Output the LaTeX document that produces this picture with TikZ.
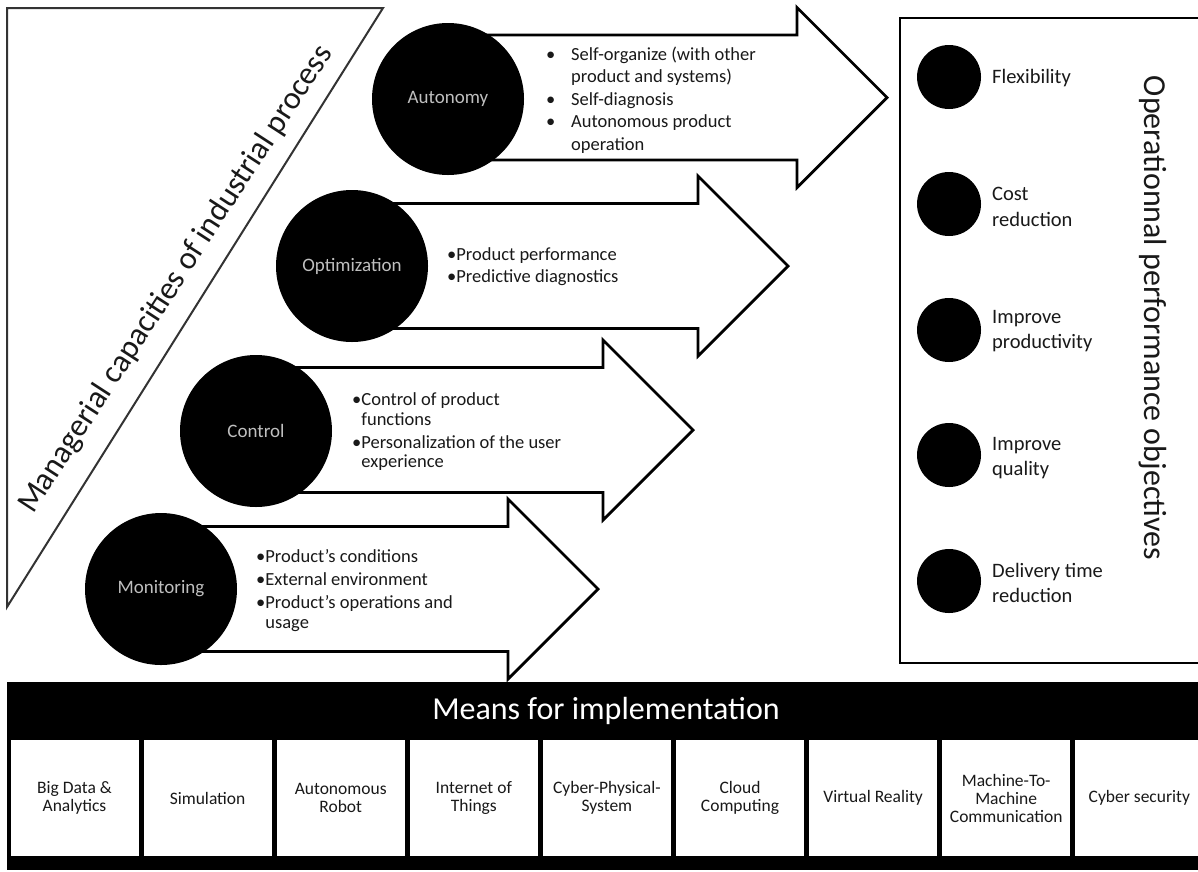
\documentclass[tikz,border=0pt]{standalone}
\usepackage{fontspec}
\setmainfont{Carlito}
\newcommand{\procarrow}[3]{%
  \draw[arrowshape] (#1,#2-62.5) -- (#3,#2-62.5) -- (#3,#2-90) -- (#3+90,#2)
    -- (#3,#2+90) -- (#3,#2+62.5) -- (#1,#2+62.5) -- cycle;}
\begin{document}
\begin{tikzpicture}[x=1pt,y=-1pt,
  arrowshape/.style={draw=black, line width=2.8pt, fill=white, line join=miter},
  bigcirc/.style={circle, fill=black, minimum size=152pt, inner sep=0pt,
    text=black!25, font=\fontsize{19}{22}\selectfont},
  smallcirc/.style={circle, fill=black, minimum size=64pt, inner sep=0pt},
  listtext/.style={anchor=west, inner sep=0pt, align=left, text=black!90,
    font=\fontsize{18.5}{22.5}\selectfont},
  objtext/.style={anchor=west, inner sep=0pt, align=left, text=black!90,
    font=\fontsize{20.5}{25.5}\selectfont},
  cell/.style={fill=white, minimum width=128pt, minimum height=116pt,
    inner sep=0pt, align=center, text=black!90,
    font=\fontsize{17.5}{18}\selectfont},
  bigtext/.style={inner sep=0pt, font=\fontsize{32}{38}\selectfont}
]
\useasboundingbox (0,0) rectangle (1198,871);
\fill[white] (0,0) rectangle (1198,871);

% triangle
\draw[line width=2pt, draw=black!80, line join=miter] (7,8) -- (383,8) -- (7,607) -- cycle;
\node[bigtext, rotate=57, anchor=base, text=black!90] (mgr) at (183,284)
  {Managerial capacities of industrial process};

% arrows
\procarrow{448}{97.5}{797}
\procarrow{352}{266}{698}
\procarrow{256}{430}{603}
\procarrow{161}{589}{508}

% circles
\node[bigcirc] (autonomy) at (448,99) {Autonomy};
\node[bigcirc] (optim) at (352,266) {Optimization};
\node[bigcirc] (control) at (256,431) {Control};
\node[bigcirc] (monit) at (161,589) {Monitoring};

% arrow texts
\node[listtext] (autol) at (546,100)
  {\makebox[25pt][l]{•}Self-organize (with other\\
   \hspace*{25pt}product and systems)\\
   \makebox[25pt][l]{•}Self-diagnosis\\
   \makebox[25pt][l]{•}Autonomous product\\
   \hspace*{25pt}operation};
\node[listtext, font=\fontsize{18.5}{22}\selectfont] (optl) at (447,267)
  {•Product performance\\•Predictive diagnostics};
\node[listtext, font=\fontsize{18.5}{19.5}\selectfont] (ctrll) at (352,432)
  {•Control of product\\\phantom{•}functions\\[3.5pt]
   •Personalization of the user\\\phantom{•}experience};
\node[listtext, font=\fontsize{18.5}{20}\selectfont] (monl) at (256,591)
  {•Product’s conditions\\[3pt]•External environment\\[3pt]
   •Product’s operations and\\\phantom{•}usage};

% objectives box
\draw[line width=2.8pt, line join=miter] (1230,18) -- (900,18) -- (900,663) -- (1230,663);
\node[smallcirc] (o1) at (949,77) {};
\node[smallcirc] (o2) at (949,204) {};
\node[smallcirc] (o3) at (949,330) {};
\node[smallcirc] (o4) at (949,455) {};
\node[smallcirc] (o5) at (949,581) {};
\node[objtext] (t1) at (992,78) {Flexibility};
\node[objtext] (t2) at (992,207) {Cost\\reduction};
\node[objtext] (t3) at (992,331) {Improve\\productivity};
\node[objtext] (t4) at (992,458) {Improve\\quality};
\node[objtext] (t5) at (992,583) {Delivery time\\reduction};
\node[bigtext, rotate=-90, text=black!90] (opobj) at (1153,318)
  {Operationnal performance objectives};

% means for implementation
\fill[black] (7,682) rectangle (1230,870);
\node[bigtext, text=white] (means) at (606,711) {Means for implementation};
\node[cell] (c1) at (74.5,798) {Big Data \&\\Analytics};
\node[cell] (c2) at (207.6,798) {Simulation};
\node[cell] (c3) at (340.7,798) {Autonomous\\Robot};
\node[cell] (c4) at (473.8,798) {Internet of\\Things};
\node[cell] (c5) at (606.9,798) {Cyber-Physical-\\System};
\node[cell] (c6) at (740,798) {Cloud\\Computing};
\node[cell] (c7) at (873.1,798) {Virtual Reality};
\node[cell] (c8) at (1006.2,798) {Machine-To-\\Machine\\Communication};
\node[cell] (c9) at (1139.3,798) {Cyber security};
\end{tikzpicture}
\end{document}
